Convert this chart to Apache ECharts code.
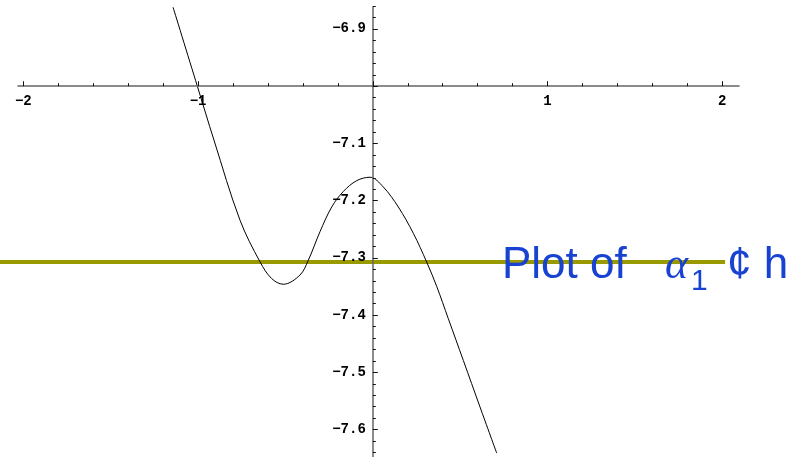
<!DOCTYPE html>
<html>
<head>
<meta charset="utf-8">
<style>
  html, body { margin: 0; padding: 0; background: #ffffff; }
  #chart { width: 809px; height: 457px; }
</style>
<script src="https://cdn.jsdelivr.net/npm/echarts@6/dist/echarts.min.js"></script>
</head>
<body>
<div id="chart"></div>
<script>
// Sampled curve (h, alpha_1)
const curveX = [-1.143, -1.004, -0.909, -0.760, -0.645, -0.579, -0.512, -0.417, -0.369,
                -0.302, -0.235, -0.169, -0.092, -0.016, 0.060, 0.146, 0.232, 0.308,
                0.366, 0.432, 0.518, 0.613, 0.709];
const curveY = [-6.862, -7.000, -7.094, -7.234, -7.307, -7.336, -7.346, -7.330, -7.304,
                -7.254, -7.211, -7.184, -7.165, -7.159, -7.176, -7.211, -7.257, -7.307,
                -7.350, -7.406, -7.479, -7.560, -7.641];

// Horizontal reference level
const levelY = -7.307;
const levelX = [-2.14, 2.016];

// Axis ticks
const xTickRange = [-2, 2];
const yTickRange = [-7.7, -6.8];
const xLabels = { '-2': '\u22122', '-1': '\u22121', '1': '1', '2': '2' };

// Visible plot window in data units
const X_MIN = -2.1333, X_MAX = 2.4961;
const Y_MIN = -7.6478, Y_MAX = -6.8616;

const curveData = curveX.map((x, i) => [x, curveY[i]]);
const levelData = levelX.map(x => [x, levelY]);

const labelFont = { fontFamily: 'Liberation Mono', fontWeight: 'bold', fontSize: 14, color: '#000' };
const textBlue = '#1842d2';

const chart = echarts.init(document.getElementById('chart'), null, { renderer: 'canvas' });

chart.setOption({
  animation: false,
  backgroundColor: '#ffffff',
  grid: [
    // 0: plotting area
    { left: 0, top: 7, width: 809, height: 450, outerBoundsMode: 'none' },
    // 1: horizontal ticks and labels (-2 .. 2), bottom edge sits on alpha = -7
    { left: 23.3, top: 0, width: 699, height: 86.2, outerBoundsMode: 'none' },
    // 2: horizontal axis line
    { left: 18, top: 0, width: 721, height: 86.2, outerBoundsMode: 'none' },
    // 3: vertical ticks and labels, left edge sits on h = 0
    { left: 372.8, top: -28.28, width: 100, height: 515.16, outerBoundsMode: 'none' }
  ],
  xAxis: [
    { gridIndex: 0, type: 'value', min: X_MIN, max: X_MAX, show: false },
    {
      gridIndex: 1, type: 'value', min: xTickRange[0], max: xTickRange[1], interval: 1,
      z: 5,
      axisLine: { show: false },
      axisTick: { show: true, inside: true, length: 5, lineStyle: { color: '#111', width: 1 } },
      minorTick: { show: true, splitNumber: 5, length: 3, lineStyle: { color: '#111', width: 1 } },
      splitLine: { show: false },
      axisLabel: Object.assign({
        margin: 8,
        formatter: v => xLabels[String(Math.round(v))] || ''
      }, labelFont)
    },
    {
      gridIndex: 2, type: 'value', min: 0, max: 1, z: 4,
      axisLine: { show: true, lineStyle: { color: '#666', width: 1.5 } },
      axisTick: { show: false }, axisLabel: { show: false }, splitLine: { show: false }
    },
    { gridIndex: 3, type: 'value', min: 0, max: 1, show: false }
  ],
  yAxis: [
    {
      gridIndex: 0, type: 'value', min: Y_MIN, max: Y_MAX, z: 4,
      axisLine: { show: true, onZero: true, lineStyle: { color: '#666', width: 1.5 } },
      axisTick: { show: false }, axisLabel: { show: false }, splitLine: { show: false }
    },
    { gridIndex: 1, type: 'value', min: 0, max: 1, show: false },
    { gridIndex: 2, type: 'value', min: 0, max: 1, show: false },
    {
      gridIndex: 3, type: 'value', position: 'left',
      min: yTickRange[0], max: yTickRange[1], interval: 0.1,
      z: 5,
      axisLine: { show: false, onZero: false },
      axisTick: { show: true, inside: true, length: 5, lineStyle: { color: '#111', width: 1 } },
      minorTick: { show: true, splitNumber: 5, length: 3, lineStyle: { color: '#111', width: 1 } },
      splitLine: { show: false },
      axisLabel: Object.assign({
        margin: 7,
        formatter: v => Math.abs(v + 7) < 1e-6 ? '' : '\u2212' + Math.abs(v).toFixed(1)
      }, labelFont)
    }
  ],
  series: [
    {
      type: 'line', xAxisIndex: 0, yAxisIndex: 0, z: 1,
      data: levelData, showSymbol: false, silent: true,
      lineStyle: { color: '#999900', width: 4 }
    },
    {
      type: 'line', xAxisIndex: 0, yAxisIndex: 0, z: 2,
      data: curveData, showSymbol: false, smooth: 0.35, silent: true,
      lineStyle: { color: '#000000', width: 1 }
    }
  ],
  graphic: [
    { type: 'text', z: 10, x: 502, y: 266,
      style: { text: 'Plot of', fill: textBlue, font: '44px "Liberation Sans"', verticalAlign: 'middle' } },
    { type: 'text', z: 10, x: 665, y: 266,
      style: { text: '\u03b1', fill: textBlue, font: 'italic 44px "Liberation Serif"', verticalAlign: 'middle' } },
    { type: 'text', z: 10, x: 691, y: 282,
      style: { text: '1', fill: textBlue, font: '30px "Liberation Sans"', verticalAlign: 'middle' } },
    { type: 'text', z: 10, x: 727, y: 266,
      style: { text: '\u00a2 h', fill: textBlue, font: '44px "Liberation Sans"', verticalAlign: 'middle' } }
  ]
});
</script>
</body>
</html>
